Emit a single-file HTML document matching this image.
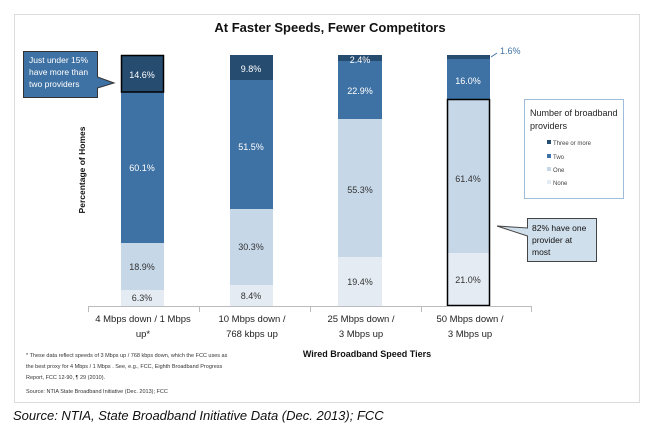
<!DOCTYPE html>
<html><head><meta charset="utf-8"><style>
body{margin:0;background:#fff;}
svg text{font-family:"Liberation Sans",sans-serif;}
</style></head><body>
<svg width="661" height="436" xmlns="http://www.w3.org/2000/svg">
<rect x="14.5" y="14.5" width="625" height="388" fill="#fff" stroke="#dcdcdc"/>
<text x="330" y="32" font-size="13" font-weight="bold" text-anchor="middle" fill="#111">At Faster Speeds, Fewer Competitors</text>
<!-- bar1 -->
<rect x="121" y="290" width="43" height="16" fill="#e4ebf2"/>
<rect x="121" y="243" width="43" height="47" fill="#c6d7e7"/>
<rect x="121" y="92" width="43" height="151" fill="#3f72a4"/>
<rect x="121.5" y="55.5" width="42" height="36.5" fill="#264c70" stroke="#000" stroke-width="1.5"/>
<!-- bar2 -->
<rect x="230" y="285" width="43" height="21" fill="#e4ebf2"/>
<rect x="230" y="209" width="43" height="76" fill="#c6d7e7"/>
<rect x="230" y="80" width="43" height="129" fill="#3f72a4"/>
<rect x="230" y="55" width="43" height="25" fill="#264c70"/>
<!-- bar3 -->
<rect x="338" y="257" width="44" height="49" fill="#e4ebf2"/>
<rect x="338" y="119" width="44" height="138" fill="#c6d7e7"/>
<rect x="338" y="61" width="44" height="58" fill="#3f72a4"/>
<rect x="338" y="55" width="44" height="6" fill="#264c70"/>
<!-- bar4 -->
<rect x="447" y="253" width="43" height="53" fill="#e4ebf2"/>
<rect x="447" y="99" width="43" height="154" fill="#c6d7e7"/>
<rect x="447" y="59" width="43" height="40" fill="#3f72a4"/>
<rect x="447" y="55" width="43" height="4" fill="#264c70"/>
<rect x="447.5" y="99.5" width="42" height="206" fill="none" stroke="#000" stroke-width="1.5"/>
<g font-size="9" text-anchor="middle" fill="#fff">
<text x="142" y="78">14.6%</text><text x="142" y="171">60.1%</text>
<text x="251" y="72">9.8%</text><text x="251" y="150">51.5%</text>
<text x="360" y="63">2.4%</text><text x="360" y="94">22.9%</text>
<text x="468" y="84">16.0%</text>
</g>
<g font-size="9" text-anchor="middle" fill="#333">
<text x="142" y="270">18.9%</text><text x="142" y="301">6.3%</text>
<text x="251" y="250">30.3%</text><text x="251" y="299">8.4%</text>
<text x="360" y="193">55.3%</text><text x="360" y="285">19.4%</text>
<text x="468" y="182">61.4%</text><text x="468" y="283">21.0%</text>
</g>
<path d="M491 57 L497 53" stroke="#3f72a4" fill="none"/>
<text x="500" y="54" font-size="9" fill="#3f72a4">1.6%</text>
<!-- axis -->
<path d="M88 306.5 H531 M88.5 306 V312 M199.5 306 V312 M310.5 306 V312 M421.5 306 V312 M531.5 306 V312" stroke="#bbb" fill="none"/>
<g font-size="9.5" text-anchor="middle" fill="#222">
<text x="143" y="322">4 Mbps down / 1 Mbps</text><text x="143" y="337">up*</text>
<text x="252" y="322">10 Mbps down /</text><text x="252" y="337">768 kbps up</text>
<text x="361" y="322">25 Mbps down /</text><text x="361" y="337">3 Mbps up</text>
<text x="470" y="322">50 Mbps down /</text><text x="470" y="337">3 Mbps up</text>
</g>
<text x="367" y="397" font-size="9" font-weight="bold" text-anchor="middle" fill="#111" transform="translate(0,-40)">Wired Broadband Speed Tiers</text>
<text transform="translate(85,170) rotate(-90)" font-size="8.5" font-weight="bold" text-anchor="middle" fill="#111">Percentage of Homes</text>
<!-- callout1 -->
<path d="M23.5 51.5 H97.5 V77 L114 83 L97.5 88 V97.5 H23.5 Z" fill="#3f72a4" stroke="#333"/>
<g font-size="8.5" fill="#fff"><text x="29" y="63">Just under 15%</text><text x="29" y="75">have more than</text><text x="29" y="87">two providers</text></g>
<!-- legend -->
<rect x="524.5" y="99.5" width="99" height="99" fill="#fff" stroke="#9ebcdc"/>
<text x="530" y="116" font-size="9" fill="#222">Number of broadband</text>
<text x="530" y="129" font-size="9" fill="#222">providers</text>
<g font-size="6" fill="#444">
<rect x="547" y="140" width="4" height="4" fill="#264c70"/><text x="553" y="145">Three or more</text>
<rect x="547" y="154" width="4" height="4" fill="#3f72a4"/><text x="553" y="159">Two</text>
<rect x="547" y="167" width="4" height="4" fill="#c6d7e7"/><text x="553" y="172">One</text>
<rect x="547" y="180" width="4" height="4" fill="#e4ebf2"/><text x="553" y="185">None</text>
</g>
<!-- callout2 -->
<path d="M527.5 218.5 H596.5 V261.5 H527.5 V236 L497 226 L527.5 228 Z" fill="#d0dfec" stroke="#444"/>
<g font-size="8.5" fill="#111"><text x="532" y="231">82% have one</text><text x="532" y="243">provider at</text><text x="532" y="255">most</text></g>
<!-- footnotes -->
<g font-size="5.5" fill="#333">
<text x="26" y="397" transform="translate(0,-40)">* These data reflect speeds of 3 Mbps up / 768 kbps down, which the FCC uses as</text>
<text x="26" y="368">the best proxy for 4 Mbps / 1 Mbps . See, e.g., FCC, Eighth Broadband Progress</text>
<text x="26" y="379">Report, FCC 12-90, ¶ 29 (2010).</text>
<text x="26" y="393">Source:  NTIA State Broadband Initiative (Dec. 2013); FCC</text>
</g>
<text x="13" y="420" font-size="13" font-style="italic" fill="#111">Source: NTIA, State Broadband Initiative Data (Dec. 2013); FCC</text>
</svg>
</body></html>
